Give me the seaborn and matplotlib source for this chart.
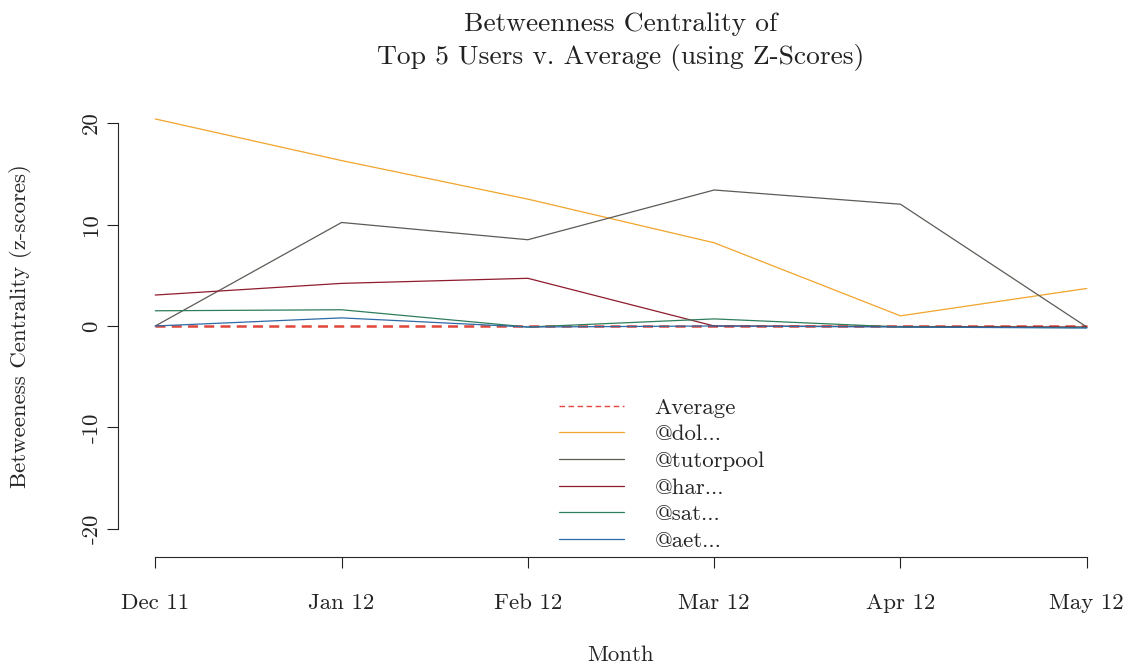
import pandas as pd
import matplotlib
matplotlib.use("Agg")
import matplotlib.pyplot as plt
import seaborn as sns

# ---- data ----
months = ["Dec 11", "Jan 12", "Feb 12", "Mar 12", "Apr 12", "May 12"]
average = [0, 0, 0, 0, 0, 0]
dol = [20.4, 16.3, 12.5, 8.2, 1.0, 3.7]
tutorpool = [0.0, 10.2, 8.5, 13.4, 12.0, -0.1]
har = [3.05, 4.2, 4.7, 0.0, -0.05, -0.1]
sat = [1.5, 1.6, -0.1, 0.7, -0.1, -0.15]
aet = [0.0, 0.8, -0.1, 0.0, -0.1, -0.2]

users = ["Average", "@dol...", "@tutorpool", "@har...", "@sat...", "@aet..."]
series = [average, dol, tutorpool, har, sat, aet]
colors = ["#E0463A", "#F0A52C", "#5E5A56", "#8E1B2E", "#2E7D5C", "#2D6AA6"]
yticks = [-20, -10, 0, 10, 20]

rows = []
for u, vals in zip(users, series):
    for i, v in enumerate(vals):
        rows.append({"month": i, "z": v, "user": u})
df = pd.DataFrame(rows)

sns.set_style("ticks")
plt.rcParams["font.family"] = ["cmr10", "DejaVu Serif"]
plt.rcParams["axes.unicode_minus"] = False

fig = plt.figure(figsize=(11.31, 6.67), dpi=100)
ax = fig.add_axes([118 / 1131, 110 / 667, 1006 / 1131, 462 / 667])

dashes = {u: (4, 2.5) if u == "Average" else "" for u in users}
sns.lineplot(data=df, x="month", y="z", hue="user", style="user",
             hue_order=users, style_order=users,
             palette=dict(zip(users, colors)), dashes=dashes,
             linewidth=0.9, ax=ax, legend=True)
# thicker dashed average line
ax.lines[0].set_linewidth(1.8)

ax.set_xlim(-0.2, 5.2)
ax.set_ylim(-22.76, 22.76)
ax.set_xticks(range(len(months)))
ax.set_xticklabels(months)
ax.set_yticks(yticks)
ax.set_yticklabels([str(t) for t in yticks])
ax.tick_params(axis="both", length=8, width=0.8, labelsize=16.5, colors="#222222")
ax.tick_params(axis="x", pad=18)
ax.tick_params(axis="y", pad=4, labelrotation=90)
for t in ax.get_yticklabels():
    t.set_va("center")

for s in ["top", "right"]:
    ax.spines[s].set_visible(False)
ax.spines["left"].set_bounds(-20, 20)
ax.spines["bottom"].set_bounds(0, 5)
ax.spines["left"].set_linewidth(0.8)
ax.spines["bottom"].set_linewidth(0.8)

ax.set_xlabel("Month", fontsize=16.5, va="center")
ax.xaxis.set_label_coords(0.5, -0.212)
ax.set_ylabel("Betweeness Centrality (z-scores)", fontsize=16.5, va="center")
ax.yaxis.set_label_coords(-0.0974, 0.5)
fig.text(621 / 1131, 0.982,
         "Betweenness Centrality of\nTop 5 Users v. Average (using Z-Scores)",
         fontsize=19.8, ha="center", va="top", linespacing=1.4,
         multialignment="center", color="#222222")

handles, labels = ax.get_legend_handles_labels()
leg = ax.legend(handles, labels, loc="upper left",
                bbox_to_anchor=(0.4265, 0.37), frameon=False, fontsize=16.5,
                handlelength=2.84, handletextpad=1.35, labelspacing=0.29,
                borderpad=0)
for line in leg.get_lines():
    line.set_linewidth(0.9)
leg.get_lines()[0].set_linewidth(1.0)

fig.savefig("out.png", dpi=100)
